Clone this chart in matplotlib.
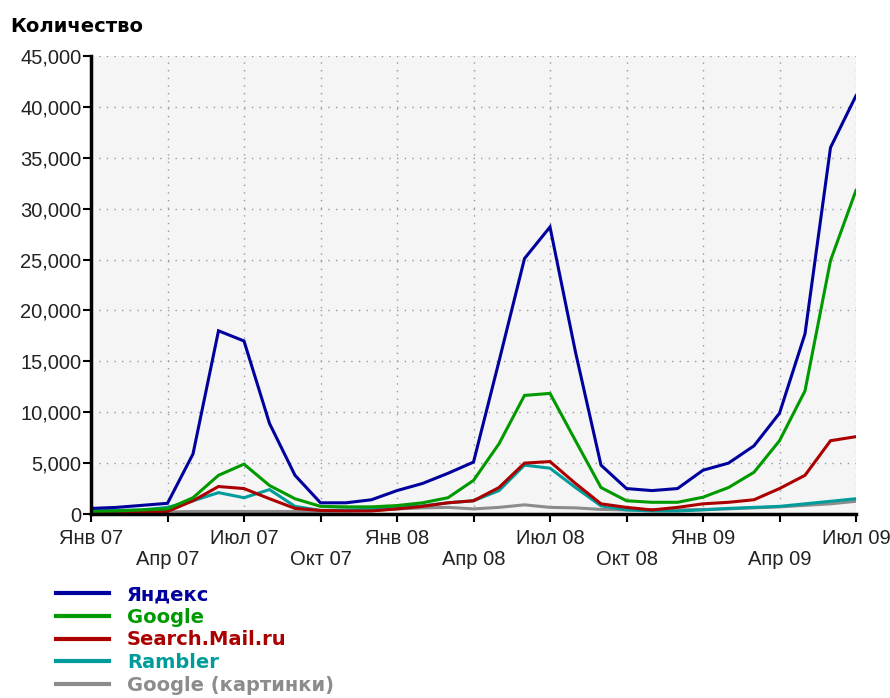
import matplotlib
matplotlib.use('Agg')
import matplotlib.pyplot as plt
import numpy as np
from matplotlib.ticker import FuncFormatter, FixedLocator

# monthly values, Jan 2007 .. Jul 2009
months = np.arange(31)
tick_labels = ['Янв 07', 'Апр 07', 'Июл 07', 'Окт 07', 'Янв 08', 'Апр 08',
               'Июл 08', 'Окт 08', 'Янв 09', 'Апр 09', 'Июл 09']

yandex = [550, 650, 850, 1050, 5900, 18000, 17000, 8900, 3800, 1100, 1100, 1400,
          2300, 3000, 4000, 5100, 15000, 25100, 28200, 15900, 4800, 2500, 2300, 2500,
          4300, 5000, 6700, 9900, 17700, 36000, 41100]
google = [250, 300, 400, 500, 1600, 3800, 4900, 2800, 1500, 750, 700, 700,
          830, 1100, 1600, 3300, 6900, 11650, 11850, 7200, 2600, 1300, 1150, 1150,
          1650, 2600, 4100, 7200, 12100, 24900, 31800]
mail = [150, 180, 200, 250, 1300, 2700, 2500, 1500, 550, 350, 300, 300,
        500, 750, 1100, 1300, 2600, 5000, 5150, 3000, 1000, 650, 400, 650,
        1000, 1150, 1400, 2500, 3800, 7200, 7600]
rambler = [350, 350, 400, 650, 1300, 2100, 1600, 2400, 750, 350, 400, 450,
           650, 800, 1100, 1300, 2300, 4800, 4500, 2600, 800, 400, 300, 300,
           400, 550, 650, 750, 1000, 1250, 1500]
google_img = [100, 120, 150, 200, 250, 250, 250, 250, 250, 250, 300, 350,
              500, 600, 650, 500, 650, 900, 650, 600, 450, 400, 400, 400,
              450, 500, 600, 700, 850, 1000, 1250]

series = [
    ('Яндекс', yandex, '#00009c'),
    ('Google', google, '#009a00'),
    ('Search.Mail.ru', mail, '#ac0000'),
    ('Rambler', rambler, '#009c9c'),
    ('Google (картинки)', google_img, '#8c8c8c'),
]

fig = plt.figure(figsize=(8.9, 6.98), dpi=100)
ax = fig.add_axes([91/890, 1-514/698, (856-91)/890, (514-56)/698])
ax.set_facecolor('#f5f5f5')

handles = []
for name, vals, col in reversed(series):
    h, = ax.plot(months, vals, color=col, lw=2.2, label=name, solid_joinstyle='miter')
    handles.append(h)
handles = handles[::-1]

ax.set_xlim(0, 30)
ax.set_ylim(0, 45000)
ax.set_yticks(np.arange(0, 45001, 5000))
ax.yaxis.set_major_formatter(FuncFormatter(lambda v, p: '{:,}'.format(int(v))))

ax.xaxis.set_major_locator(FixedLocator(np.arange(0, 31, 6)))
ax.xaxis.set_minor_locator(FixedLocator(np.arange(3, 31, 6)))
ax.set_xticklabels(tick_labels[0::2])
ax.set_xticklabels(tick_labels[1::2], minor=True)

for lab in ax.get_xticklabels(which='both') + ax.get_yticklabels():
    lab.set_fontfamily('Liberation Sans')
    lab.set_fontsize(14.5)
    lab.set_color('#222222')

ax.tick_params(axis='y', length=6, width=1.5, pad=1)
ax.tick_params(axis='x', which='major', length=6, width=1.5, pad=5)
ax.tick_params(axis='x', which='minor', length=6, width=1.5, pad=20)

ax.grid(True, which='both', color='#999999', lw=1, linestyle=(0, (1, 4.5)))
ax.set_axisbelow(True)
for s in ['top', 'right']:
    ax.spines[s].set_visible(False)
for s in ['left', 'bottom']:
    ax.spines[s].set_linewidth(2.5)
    ax.spines[s].set_color('black')

fig.text(10/890, 1-26/698, 'Количество', fontsize=14, fontweight='bold',
         family='DejaVu Sans', va='center', ha='left')

leg = fig.legend(handles=handles, loc='upper left', bbox_to_anchor=(56/890, 1-585/698),
                 frameon=False, borderpad=0, borderaxespad=0, handlelength=2.7,
                 handletextpad=0.95, labelspacing=0.19, labelcolor='linecolor',
                 prop={'family': 'DejaVu Sans', 'weight': 'bold', 'size': 14})
for line in leg.get_lines():
    line.set_linewidth(3)

fig.savefig('out.png', dpi=100)
